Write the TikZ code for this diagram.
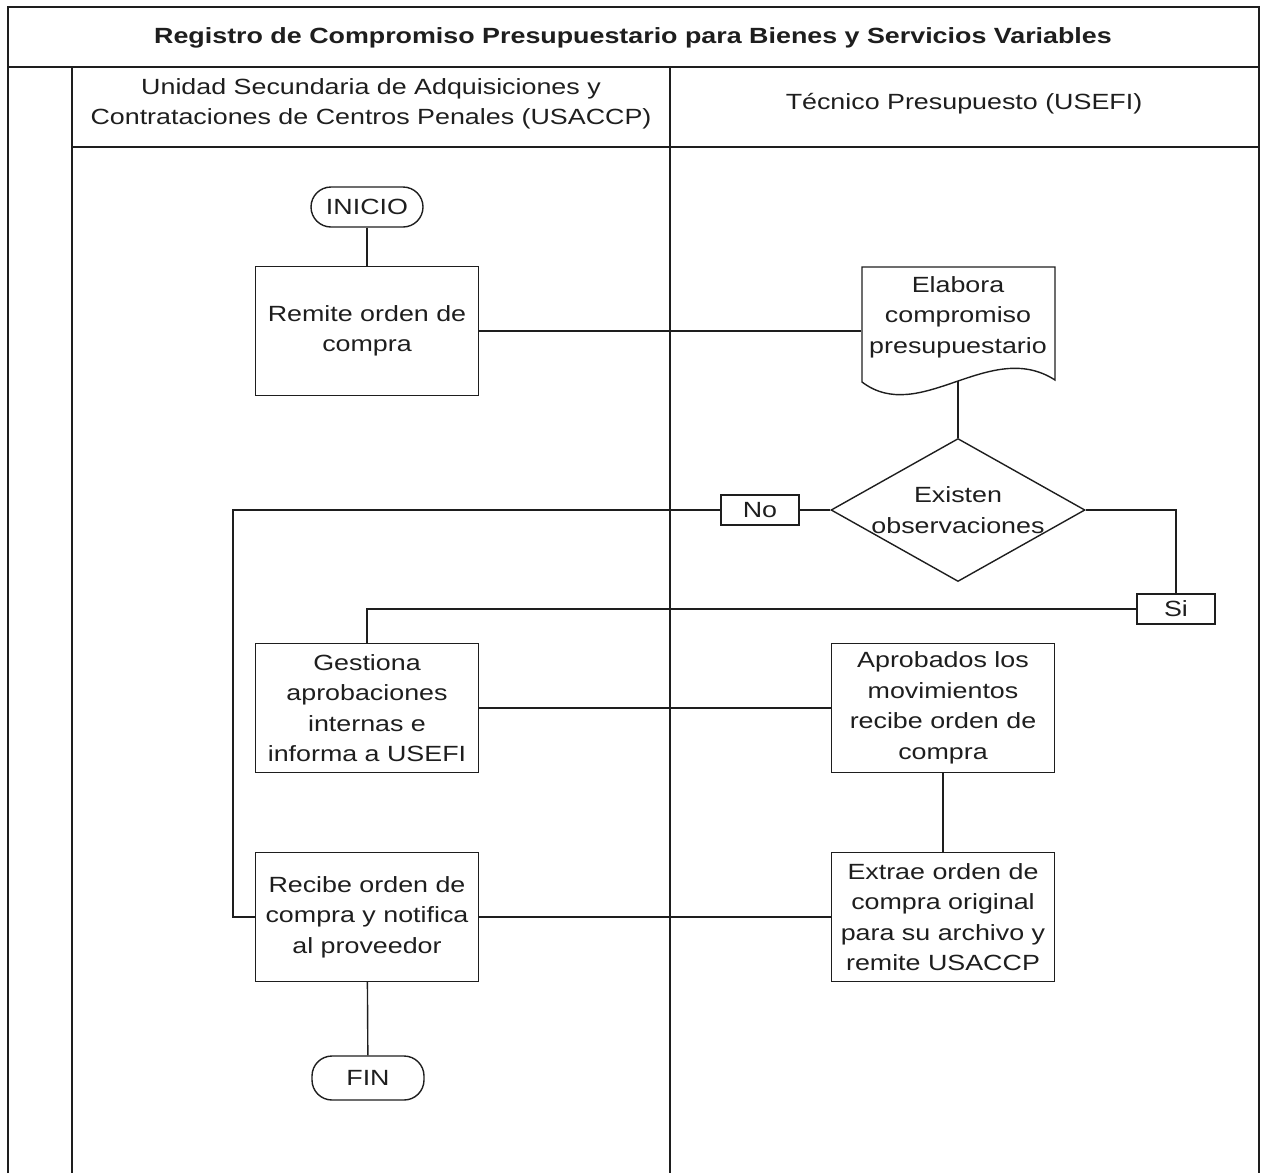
\documentclass[tikz,border=0pt]{standalone}
\usepackage{fontspec}
\setmainfont{Liberation Sans}[FakeStretch=1.22]
\usetikzlibrary{shapes.geometric}
\definecolor{ink}{HTML}{1E1E1E}
\tikzset{
  every node/.style={font=\fontsize{22}{30.5}\selectfont, text=ink},
  line/.style={draw=ink, line width=1.4pt},
  procbox/.style={line, rectangle, minimum width=223, minimum height=129, align=center, inner sep=2pt},
  termbox/.style={line, rectangle, rounded corners=20, minimum width=112, minimum height=40, inner sep=0pt},
  tagbox/.style={line, rectangle, minimum width=78, minimum height=30, inner sep=0pt},
  decbox/.style={line, diamond, minimum width=254, minimum height=143, inner sep=0pt},
  plaintext/.style={align=center, inner sep=0pt}
}
\begin{document}
\begin{tikzpicture}[x=1pt, y=-1pt]
\useasboundingbox (0,0) rectangle (1263,1173);
% frame
\draw[line] (8,1173) -- (8,7) -- (1259,7) -- (1259,1173);
\draw[line] (8,67) -- (1259,67);
\draw[line] (72,67) -- (72,1173);
\draw[line] (72,147) -- (1259,147);
\draw[line] (670,67) -- (670,1173);
% headers
\node[plaintext, font=\fontsize{22}{30.5}\selectfont\bfseries] (title) at (633,38) {Registro de Compromiso Presupuestario para Bienes y Servicios Variables};
\node[plaintext] (lane1) at (371,104) {Unidad Secundaria de Adquisiciones y\\Contrataciones de Centros Penales (USACCP)};
\node[plaintext] (lane2) at (964,104) {Técnico Presupuesto (USEFI)};
% nodes
\node[termbox] (inicio) at (367,207) {INICIO};
\node[procbox] (remite) at (367,331) {Remite orden de\\compra};
\draw[line] (862,382) -- (862,267) -- (1055,267) -- (1055,380) .. controls (990,338) and (920,426) .. (862,382) -- cycle;
\node[plaintext, minimum width=193] (elab) at (958,317) {Elabora\\compromiso\\presupuestario};
\coordinate (elabB) at (958,381);
\node[decbox, label={[plaintext]center:Existen\\observaciones}] (dec) at (958,510) {};
\node[tagbox] (no) at (760,510) {No};
\node[tagbox] (si) at (1176,609) {Si};
\node[procbox] (gest) at (367,708) {Gestiona\\aprobaciones\\internas e\\informa a USEFI};
\node[procbox] (aprob) at (943,708) {Aprobados los\\movimientos\\recibe orden de\\compra};
\node[procbox] (extrae) at (943,917) {Extrae orden de\\compra original\\para su archivo y\\remite USACCP};
\node[procbox] (recibe) at (367,917) {Recibe orden de\\compra y notifica\\al proveedor};
\node[termbox, minimum height=44] (fin) at (368,1078) {FIN};
\coordinate (nc) at (233,510);
% connectors
\draw[line] (inicio) -- (remite);
\draw[line] (remite.east) -- (remite.east -| elab.west);
\draw[line] (elabB) -- (dec.north);
\draw[line] (dec.west) -- (no.east);
\draw[line] (no.west) -- (nc) |- (recibe.west);
\draw[line] (dec.east) -| (si.north);
\draw[line] (si.west) -| (gest.north);
\draw[line] (gest) -- (aprob);
\draw[line] (aprob) -- (extrae);
\draw[line] (extrae) -- (recibe);
\draw[line] (recibe) -- (fin);
\end{tikzpicture}
\end{document}
